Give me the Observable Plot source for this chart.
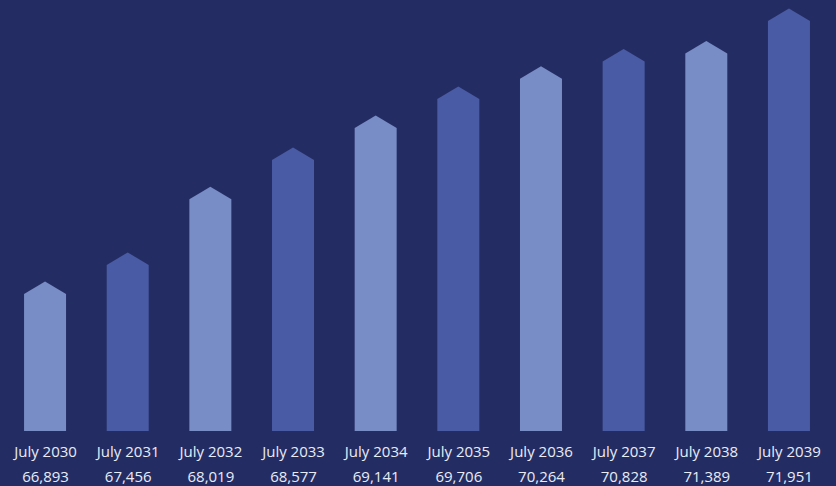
<!DOCTYPE html>
<html>
<head>
<meta charset="utf-8">
<script src="https://cdn.jsdelivr.net/npm/d3@7"></script>
<script src="https://cdn.jsdelivr.net/npm/@observablehq/plot@0.6"></script>
<style>
  html, body { margin: 0; padding: 0; background: #242d63; }
  #chart svg { display: block; }
</style>
</head>
<body>
<div id="chart"></div>
<script>
// Categories (x axis)
const labels = ["July 2030", "July 2031", "July 2032", "July 2033", "July 2034",
                "July 2035", "July 2036", "July 2037", "July 2038", "July 2039"];
// Values printed under each bar
const population = [66893, 67456, 68019, 68577, 69141, 69706, 70264, 70828, 71389, 71951];
// Bar heights as drawn (relative index, tallest bar = 100)
const barHeight = [33.4, 40.5, 56.5, 66.1, 73.9, 81.0, 85.9, 90.1, 92.1, 100];

const data = labels.map((label, i) => ({label, value: population[i], h: barHeight[i], i}));

const LIGHT = "#788cc6";
const DARK = "#4a5ba6";
const TEXT = "#e9ecf5";
const CAP = 12.5;

const fmt = d3.format(",");

const chart = Plot.plot({
  width: 836,
  height: 486,
  marginTop: 21,
  marginBottom: 55,
  marginLeft: 0,
  marginRight: 2,
  style: {background: "#242d63", fontFamily: "'Open Sans', sans-serif"},
  x: {domain: labels, paddingInner: 0.492, paddingOuter: 0.291, round: false, axis: null},
  y: {domain: [0, 100], axis: null},
  marks: [
    Plot.barY(data, {
      x: "label",
      y: "h",
      fill: d => d.i % 2 ? DARK : LIGHT,
      render(index, scales, values, dimensions, context, next) {
        const {x, y} = scales;
        const bw = x.bandwidth();
        const g = d3.create("svg:g");
        for (const k of index) {
          const d = data[k];
          const x0 = x(d.label), x1 = x0 + bw, xc = x0 + bw / 2;
          const yt = y(d.h), yb = y(0);
          g.append("path")
            .attr("d", `M${x0},${yb}L${x0},${yt}L${xc},${yt - CAP}L${x1},${yt}L${x1},${yb}Z`)
            .attr("fill", d.i % 2 ? DARK : LIGHT);
        }
        return g.node();
      }
    }),
    Plot.text(data, {
      x: "label",
      text: "label",
      frameAnchor: "bottom",
      lineAnchor: "bottom",
      dy: 25.2,
      fontSize: 15,
      fill: TEXT
    }),
    Plot.text(data, {
      x: "label",
      text: d => fmt(d.value),
      frameAnchor: "bottom",
      lineAnchor: "bottom",
      dy: 50.2,
      fontSize: 15,
      fill: TEXT
    })
  ]
});

document.getElementById("chart").append(chart);
</script>
</body>
</html>
